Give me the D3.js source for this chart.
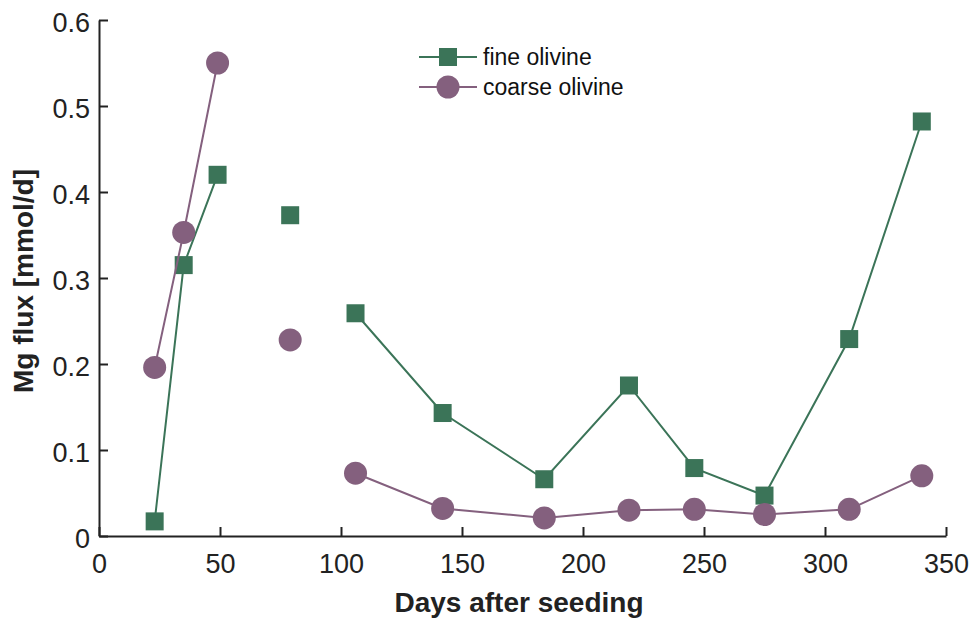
<!DOCTYPE html>
<html>
<head>
<meta charset="utf-8">
<script src="https://cdn.jsdelivr.net/npm/d3@7"></script>
<style>
  html, body { margin: 0; padding: 0; background: #fff; }
  svg { display: block; font-family: "Liberation Sans", Arial, Helvetica, sans-serif; }
</style>
</head>
<body>
<svg id="chart" width="972" height="623"></svg>
<script>
// ---- data ----
const days    = [23, 35, 49, 79, 106, 142, 184, 219, 246, 275, 310, 340];
const segment = [0, 0, 0, 1, 2, 2, 2, 2, 2, 2, 2, 2]; // connected runs
const fineOlivine   = [0.017, 0.315, 0.420, 0.373, 0.259, 0.143, 0.066, 0.175, 0.079, 0.047, 0.229, 0.482];
const coarseOlivine = [0.196, 0.353, 0.550, 0.228, 0.073, 0.032, 0.021, 0.030, 0.031, 0.025, 0.031, 0.070];
const seriesNames = ["fine olivine", "coarse olivine"];
const xTicks = [0, 50, 100, 150, 200, 250, 300, 350];
const yTicks = [0, 0.1, 0.2, 0.3, 0.4, 0.5, 0.6];
const xLabel = "Days after seeding";
const yLabel = "Mg flux [mmol/d]";

// ---- layout ----
(function () {
const green = "#3b7458", purple = "#84607e", axisColor = "#222";
const mLeft = 99, mRight = 946, mTop = 20, mBottom = 536;
const svg = d3.select("#chart");
const x = d3.scaleLinear().domain([0, 350]).range([mLeft, mRight]);
const y = d3.scaleLinear().domain([0, 0.6]).range([mBottom, mTop]);

// axes
const xAxis = svg.append("g").attr("transform", `translate(0,${mBottom})`)
  .call(d3.axisBottom(x).tickValues(xTicks).tickSizeInner(-9).tickSizeOuter(0).tickPadding(18).tickFormat(d3.format("d")));
const yAxis = svg.append("g").attr("transform", `translate(${mLeft},0)`)
  .call(d3.axisLeft(y).tickValues(yTicks).tickSizeInner(-9).tickSizeOuter(0).tickPadding(9).tickFormat(d => d === 0 ? "0" : d3.format(".1f")(d)));
[xAxis, yAxis].forEach(a => {
  a.select(".domain").attr("stroke", axisColor).attr("stroke-width", 2);
  a.selectAll(".tick line").attr("stroke", axisColor).attr("stroke-width", 2);
  a.selectAll(".tick text").attr("fill", "#222").style("font-size", "27px").style("font-family", "Liberation Sans, Arial, sans-serif");
});
xAxis.selectAll(".tick text").attr("dy", "0.71em");
yAxis.selectAll(".tick text").attr("dy", "0.44em");

svg.append("text").attr("x", 519).attr("y", 612).attr("text-anchor", "middle")
  .style("font-size", "28px").style("font-weight", "bold").attr("fill", "#222").text(xLabel);
svg.append("text").attr("transform", `translate(33,281) rotate(-90)`).attr("text-anchor", "middle")
  .style("font-size", "28px").style("font-weight", "bold").attr("fill", "#222").text(yLabel);

// series
const series = [
  { name: seriesNames[0], values: fineOlivine, color: green, shape: "square" },
  { name: seriesNames[1], values: coarseOlivine, color: purple, shape: "circle" }
];
const line = d3.line().x(d => x(d.day)).y(d => y(d.v));

function drawMarker(g, cx, cy, s) {
  if (s.shape === "square") {
    g.append("rect").attr("x", cx - 9).attr("y", cy - 9).attr("width", 18).attr("height", 18).attr("fill", s.color);
  } else {
    g.append("circle").attr("cx", cx).attr("cy", cy).attr("r", 11.5).attr("fill", s.color);
  }
}

series.forEach(s => {
  const pts = days.map((d, i) => ({ day: d, v: s.values[i], seg: segment[i] }));
  const groups = d3.groups(pts, d => d.seg);
  const g = svg.append("g");
  groups.forEach(([k, arr]) => {
    if (arr.length > 1) g.append("path").attr("d", line(arr)).attr("fill", "none").attr("stroke", s.color).attr("stroke-width", 2);
  });
  pts.forEach(p => drawMarker(g, x(p.day), y(p.v), s));
});

// legend
const legend = svg.append("g");
series.forEach((s, i) => {
  const ly = 57 + i * 30;
  const g = legend.append("g");
  g.append("line").attr("x1", 419).attr("x2", 477).attr("y1", ly).attr("y2", ly).attr("stroke", s.color).attr("stroke-width", 2);
  drawMarker(g, 448, ly, s);
  g.append("text").attr("x", 483).attr("y", ly).attr("dy", "0.35em").style("font-size", "23px").attr("fill", "#111").text(s.name);
});
})();
</script>
</body>
</html>
